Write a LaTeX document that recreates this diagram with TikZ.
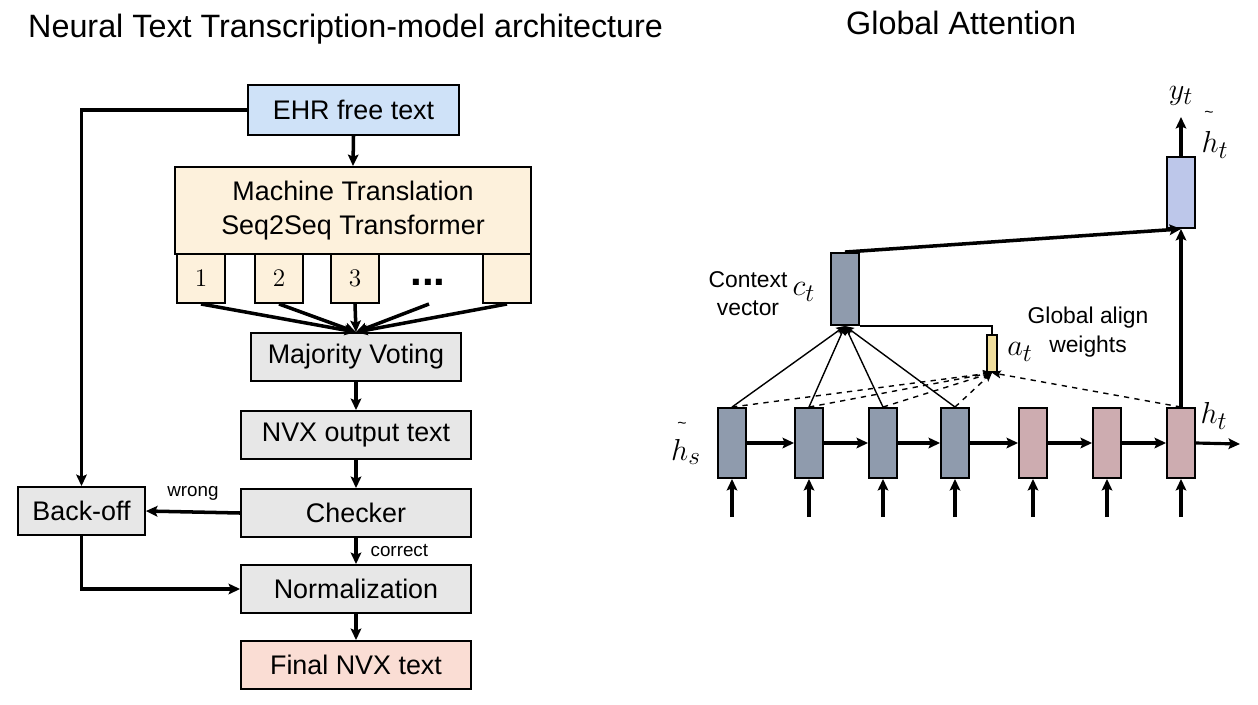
\documentclass[tikz,border=0pt]{standalone}
\usepackage[no-math]{fontspec}
\setmainfont{Liberation Sans}
\usetikzlibrary{arrows.meta}

\definecolor{ehrblue}{RGB}{207,226,248}
\definecolor{mtcream}{RGB}{253,241,220}
\definecolor{stepgray}{RGB}{231,231,231}
\definecolor{finalpink}{RGB}{250,221,212}
\definecolor{encgray}{RGB}{143,155,173}
\definecolor{decpink}{RGB}{205,172,176}
\definecolor{topblue}{RGB}{189,199,234}
\definecolor{atyellow}{RGB}{240,222,156}

\tikzset{
  box/.style={draw=black, line width=1.1pt, inner sep=0pt, font=\fontsize{15.3}{19}\selectfont},
  stepbox/.style={box, fill=stepgray, minimum width=4.6cm, minimum height=0.96cm},
  arr/.style={line width=2pt, -{Stealth[length=6.5pt,width=6pt,inset=1.2pt]}},
  cell/.style={draw=black, line width=1.1pt, minimum width=0.56cm, minimum height=1.4cm, inner sep=0pt},
  link/.style={line width=0.8pt, -{Stealth[length=5pt,width=4.5pt,inset=1pt]}},
  weight/.style={line width=0.8pt, dashed, -{Stealth[length=5pt,width=4.5pt,inset=1pt]}},
  mlab/.style={font=\fontsize{19}{22}\selectfont, inner sep=1pt},
  tildemark/.style={font=\fontsize{9}{10}\selectfont, inner sep=0pt},
}

\begin{document}
\begin{tikzpicture}[x=0.02cm, y=-0.02cm]
  \useasboundingbox (0,0) rectangle (1258,704);

  \node[anchor=base west, font=\fontsize{18.4}{22}\selectfont] (titleleft) at (22,37) {Neural Text Transcription-model architecture};
  \node[anchor=base west, font=\fontsize{18.4}{22}\selectfont] (titleright) at (840,34) {Global Attention};

  % transcription pipeline
  \node[box, fill=ehrblue, minimum width=4.22cm, minimum height=1cm] (ehr) at (353.5,110) {EHR free text};
  \node[box, fill=mtcream, minimum width=7.12cm, minimum height=1.74cm, align=center] (mt) at (353,210.5) {Machine Translation\\Seq2Seq Transformer};

  \foreach\name/\x in {1/201,2/279,3/355}{
    \node[box, fill=mtcream, minimum width=0.96cm, minimum height=0.98cm, font=\fontsize{14}{16}\selectfont] (out\name) at (\x,278.5) {$\name$};
  }
  \node[box, fill=mtcream, minimum width=0.96cm, minimum height=0.98cm] (outn) at (507,278.5) {};
  \node[anchor=base, font=\fontsize{24}{24}\bfseries] (dots) at (428,285) {...};
  \coordinate (dotsend) at (429,304);

  \node[stepbox, minimum width=4.2cm] (mv) at (356,357) {Majority Voting};
  \node[stepbox] (nvx) at (356,435) {NVX output text};
  \node[stepbox] (chk) at (356,513) {Checker};
  \node[stepbox] (norm) at (356,589) {Normalization};
  \node[stepbox, fill=finalpink] (final) at (356,665) {Final NVX text};
  \node[box, fill=stepgray, minimum width=2.54cm, minimum height=0.96cm] (back) at (81.5,511) {Back-off};

  \draw[arr] (ehr.south) -- (mt.north);
  \foreach\name in {out1,out2,out3,outn}{
    \draw[arr] (\name.south) -- (mv.north);
  }
  \draw[arr] (dotsend) -- (mv.north);
  \draw[arr] (mv.south) -- (nvx.north);
  \draw[arr] (nvx.south) -- (chk.north);
  \draw[arr] (chk.west) -- node[above, yshift=2pt, font=\fontsize{10.7}{12}\selectfont] {wrong} (back.east);
  \draw[arr] (chk.south) -- node[right, xshift=4pt, font=\fontsize{10.7}{12}\selectfont] {correct} (norm.north);
  \draw[arr] (norm.south) -- (final.north);
  \draw[arr] (ehr.west) -| (back.north);
  \draw[arr] (back.south) |- (norm.west);

  % global attention
  \foreach\name/\x/\col in {s1/732/encgray, s2/809/encgray, s3/883/encgray, s4/955/encgray, t1/1033/decpink, t2/1107/decpink, t3/1181/decpink}{
    \node[cell, fill=\col] (\name) at (\x,443) {};
    \coordinate (in\name) at (\x,517);
    \draw[arr, line width=1.8pt] (in\name) -- (\name.south);
  }
  \foreach\a/\b in {s1/s2, s2/s3, s3/s4, s4/t1, t1/t2, t2/t3}{
    \draw[arr, line width=1.8pt] (\a.east) -- (\b.west);
  }
  \coordinate (tout) at (1240,444);
  \draw[arr, line width=1.8pt] (t3.east) -- (tout);

  \node[cell, fill=encgray, minimum height=1.44cm] (ctx) at (845,289) {};
  \node[cell, fill=topblue, minimum height=1.42cm] (hdec) at (1181,192.5) {};
  \node[cell, fill=atyellow, minimum width=0.2cm, minimum height=0.74cm, line width=0.9pt] (at) at (992,353.5) {};

  \foreach\name in {s1,s2,s3,s4}{
    \draw[link] (\name.north) -- (ctx.south);
  }
  \foreach\name in {s1,s2,s3,s4,t3}{
    \draw[weight] (\name.north) -- (at.south);
  }
  \draw[line width=0.9pt] (ctx.south east) -| (at.north);
  \draw[arr] (ctx.north) -- (hdec.south);
  \draw[arr] (t3.north) -- (hdec.south);
  \coordinate (yout) at (1181,117);
  \draw[arr, line width=1.8pt] (hdec.north) -- (yout);

  \node[mlab] (ylab) at (1181,96) {$y_t$};
  \node[tildemark] (httilde) at (1209,114) {\textasciitilde};
  \node[mlab] (htildelab) at (1215,145) {$h_t$};
  \node[mlab] (htlab) at (1214,416) {$h_t$};
  \node[tildemark] (hstilde) at (682,425) {\textasciitilde};
  \node[mlab] (hslab) at (686,452) {$h_s$};
  \node[mlab] (atlab) at (1020,352) {$a_t$};
  \node[mlab] (ctlab) at (804,292) {$c_t$};
  \node[align=center, font=\fontsize{13}{15.9}\selectfont] (ctxtext) at (748,294) {Context\\vector};
  \node[align=center, font=\fontsize{13}{16.4}\selectfont] (aligntext) at (1088,332) {Global align\\weights};
\end{tikzpicture}
\end{document}
